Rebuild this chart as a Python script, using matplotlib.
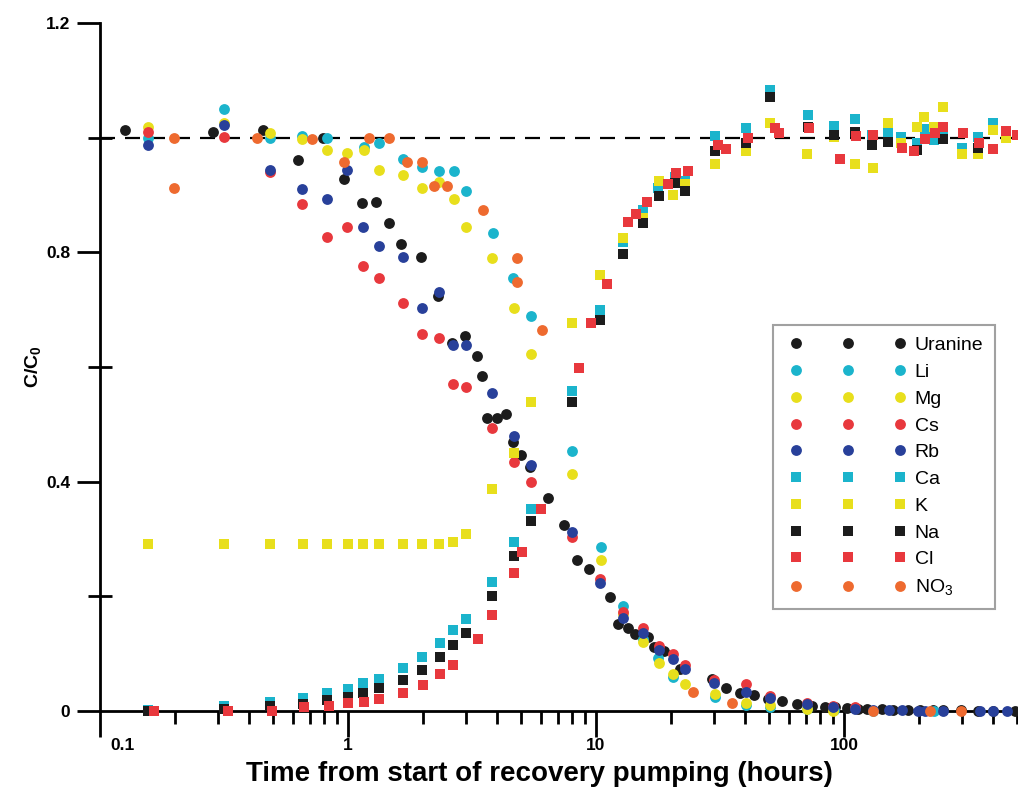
import matplotlib
matplotlib.use("Agg")
import matplotlib.pyplot as plt
import matplotlib.transforms as mtransforms
from matplotlib.ticker import FixedLocator, LogLocator, NullFormatter
from matplotlib.legend_handler import HandlerLine2D

plt.rcParams["font.family"] = ["Liberation Sans", "DejaVu Sans"]
plt.rcParams["mathtext.fontset"] = "custom"
plt.rcParams["mathtext.rm"] = "Liberation Sans"
plt.rcParams["mathtext.bf"] = "Liberation Sans:bold"

# Tracer breakthrough / recovery data (time in hours, C/C0)

uranine_t = [0.126, 0.286, 0.454, 0.629, 0.793, 0.963, 1.14, 1.30, 1.46, 1.64, 1.97, 2.31,
             2.63, 2.96, 3.31, 3.47, 3.63, 3.99, 4.34, 4.63, 4.98, 5.42, 6.4, 7.43, 8.38,
             9.37, 11.4, 12.3, 13.5, 14.4, 16.2, 17.1, 18.8, 21.8, 29.4, 33.4, 38.1, 43.4,
             49.4, 56.2, 64.6, 74.3, 83.8, 92.0, 103, 114, 124, 142, 158, 181, 202, 229,
             251, 296, 347, 399, 489]
uranine_c = [1.013, 1.01, 1.013, 0.961, 1.0, 0.928, 0.886, 0.888, 0.851, 0.815, 0.792, 0.724,
             0.642, 0.654, 0.619, 0.584, 0.511, 0.511, 0.518, 0.469, 0.447, 0.426, 0.372, 0.324, 0.263,
             0.248, 0.199, 0.152, 0.145, 0.134, 0.129, 0.112, 0.105, 0.073, 0.056, 0.040, 0.031, 0.028,
             0.021, 0.017, 0.012, 0.009, 0.007, 0.007, 0.005, 0.004, 0.003, 0.003, 0.002, 0.002, 0.002, 0.001,
             0.001, 0.001, 0.0, 0.0, 0.0]

li_t = [0.156, 0.316, 0.485, 0.653, 0.823, 1.16, 1.33, 1.67, 1.99, 2.33, 2.68, 2.99, 3.84,
        4.63, 5.47, 8.0, 10.5, 12.9, 15.5, 17.8, 20.4, 30.2, 40.3, 50.3, 70.9, 91.2, 131, 231]
li_c = [1.0, 1.05, 1.0, 1.003, 1.0, 0.984, 0.991, 0.963, 0.949, 0.942, 0.942, 0.907, 0.834,
        0.755, 0.689, 0.454, 0.286, 0.183, 0.125, 0.092, 0.059, 0.024, 0.01, 0.007, 0.003, 0.001, 0.0, 0.0]

mg_t = [0.156, 0.316, 0.485, 0.653, 0.823, 0.99, 1.16, 1.33, 1.67, 1.99, 2.33, 2.68, 2.99,
        3.81, 4.67, 5.47, 8.0, 10.5, 12.9, 15.5, 17.9, 20.4, 22.9, 30.2, 40.3, 50.3, 70.9, 90.3]
mg_c = [1.019, 1.026, 1.008, 0.998, 0.979, 0.973, 0.979, 0.944, 0.935, 0.912, 0.923, 0.893, 0.845,
        0.79, 0.703, 0.623, 0.413, 0.263, 0.17, 0.12, 0.084, 0.065, 0.047, 0.03, 0.014, 0.01, 0.003, 0.0]

cs_t = [0.156, 0.316, 0.485, 0.653, 0.823, 0.99, 1.15, 1.33, 1.67, 1.99, 2.33, 2.65, 2.99,
        3.81, 4.67, 5.47, 8.0, 10.4, 12.9, 15.5, 17.9, 20.4, 22.9, 29.9, 40.3, 50.3, 70.9, 90.3, 111]
cs_c = [1.01, 1.001, 0.94, 0.884, 0.827, 0.844, 0.776, 0.755, 0.712, 0.658, 0.65, 0.57, 0.565,
        0.494, 0.434, 0.40, 0.303, 0.23, 0.173, 0.145, 0.113, 0.099, 0.08, 0.054, 0.047, 0.026, 0.014, 0.009, 0.007]

rb_t = [0.156, 0.316, 0.485, 0.653, 0.823, 0.99, 1.15, 1.33, 1.67, 1.99, 2.33, 2.65, 2.99,
        3.81, 4.67, 5.47, 8.0, 10.4, 12.9, 15.5, 17.9, 20.4, 22.9, 29.9, 40.3, 50.3, 70.9, 90.3,
        111, 131, 152, 171, 199, 212, 251, 353, 399, 454]
rb_c = [0.987, 1.022, 0.944, 0.911, 0.893, 0.944, 0.844, 0.811, 0.792, 0.703, 0.731, 0.638, 0.638,
        0.555, 0.48, 0.429, 0.312, 0.223, 0.162, 0.136, 0.106, 0.09, 0.073, 0.049, 0.033, 0.023, 0.012, 0.007,
        0.003, 0.002, 0.002, 0.002, 0.0, 0.0, 0.0, 0.0, 0.0, 0.0]

ca_t = [0.156, 0.316, 0.485, 0.659, 0.823, 1.0, 1.15, 1.33, 1.67, 1.99, 2.35, 2.65, 2.99,
        3.81, 4.67, 5.47, 8.0, 10.4, 12.9, 15.5, 17.8, 20.8, 22.9, 30.2, 40.3, 50.3, 71.6, 91.2,
        111, 130, 150, 170, 197, 212, 231, 251, 299, 347, 399, 450]
ca_c = [0.002, 0.009, 0.016, 0.022, 0.031, 0.038, 0.049, 0.056, 0.075, 0.094, 0.119, 0.141, 0.160,
        0.225, 0.295, 0.352, 0.558, 0.70, 0.818, 0.874, 0.912, 0.931, 0.925, 1.003, 1.017, 1.083, 1.04, 1.02,
        1.033, 1.005, 1.008, 1.001, 0.99, 1.015, 0.996, 1.008, 0.982, 1.001, 1.026, 1.0]

k_t = [0.156, 0.316, 0.485, 0.659, 0.823, 1.0, 1.15, 1.33, 1.67, 1.99, 2.33, 2.65, 2.99,
       3.81, 4.67, 5.47, 8.0, 10.4, 12.9, 15.5, 17.9, 20.4, 22.9, 30.2, 40.3, 50.3, 70.9, 91.2,
       111, 131, 150, 170, 197, 210, 231, 251, 299, 347, 399, 450]
k_c = [0.291, 0.291, 0.291, 0.291, 0.291, 0.291, 0.291, 0.291, 0.291, 0.291, 0.291, 0.295, 0.309,
       0.387, 0.45, 0.539, 0.677, 0.76, 0.825, 0.86, 0.924, 0.90, 0.919, 0.954, 0.977, 1.026, 0.972, 1.001,
       0.954, 0.947, 1.026, 0.991, 1.019, 1.036, 1.019, 1.054, 0.972, 0.972, 1.013, 1.0]

na_t = [0.156, 0.316, 0.485, 0.659, 0.823, 1.0, 1.15, 1.33, 1.67, 1.99, 2.35, 2.65, 2.99,
        3.81, 4.67, 5.47, 8.0, 10.4, 12.9, 15.5, 17.9, 20.8, 22.9, 30.2, 40.3, 50.3, 71.6, 91.2,
        111, 130, 150, 197, 251, 347]
na_c = [0.0, 0.003, 0.008, 0.012, 0.019, 0.025, 0.031, 0.040, 0.054, 0.072, 0.094, 0.115, 0.136,
        0.2, 0.27, 0.331, 0.539, 0.682, 0.797, 0.851, 0.898, 0.921, 0.907, 0.977, 0.991, 1.071, 1.019, 1.005,
        1.01, 0.987, 0.993, 0.979, 0.998, 0.982]

cl_t = [0.165, 0.328, 0.494, 0.665, 0.838, 1.0, 1.16, 1.33, 1.67, 2.01, 2.35, 2.65, 3.34,
        3.81, 4.67, 5.03, 6.0, 8.54, 9.55, 11.1, 13.5, 14.5, 16.1, 19.5, 21.0, 23.5, 31.0, 33.4,
        41.0, 52.7, 54.7, 72.3, 96.4, 112, 131, 171, 192, 212, 233, 251, 302, 350, 399, 450, 499]
cl_c = [0.0, 0.0, 0.0, 0.007, 0.009, 0.014, 0.016, 0.021, 0.031, 0.045, 0.065, 0.08, 0.126,
        0.167, 0.241, 0.277, 0.352, 0.598, 0.677, 0.745, 0.853, 0.867, 0.888, 0.919, 0.938, 0.942, 0.987, 0.98,
        1.0, 1.017, 1.008, 1.017, 0.963, 1.003, 1.005, 0.982, 0.977, 0.998, 1.008, 1.019, 1.008, 0.991, 0.98, 1.012, 1.005]

no3_t = [0.199, 0.199, 0.430, 0.716, 0.963, 1.215, 1.46, 1.73, 1.99, 2.22, 2.51, 3.50, 4.80,
         4.80, 6.05, 24.6, 35.3, 131, 222, 296]
no3_c = [1.0, 0.912, 1.0, 0.998, 0.958, 1.0, 1.0, 0.958, 0.958, 0.916, 0.916, 0.874, 0.79,
         0.748, 0.665, 0.033, 0.014, 0.0, 0.0, 0.0]

series = [
    ("Uranine", uranine_t, uranine_c, "o", "#1c1c1c"),
    ("Li", li_t, li_c, "o", "#1bb4cc"),
    ("Mg", mg_t, mg_c, "o", "#e8df1c"),
    ("Cs", cs_t, cs_c, "o", "#e8383d"),
    ("Rb", rb_t, rb_c, "o", "#28409a"),
    ("Ca", ca_t, ca_c, "s", "#1bb4cc"),
    ("K", k_t, k_c, "s", "#e8df1c"),
    ("Na", na_t, na_c, "s", "#1c1c1c"),
    ("Cl", cl_t, cl_c, "s", "#e8383d"),
    ("NO$_3$", no3_t, no3_c, "o", "#ee6a2f"),
]

fig = plt.figure(figsize=(10.18, 7.99), dpi=100)
ax = fig.add_axes([100 / 1018, 88 / 799, 918 / 1018, 688 / 799])

ax.axhline(1.0, color="black", lw=1.6, dashes=(6.75, 4.5), zorder=1)

for name, t, c, m, col in series:
    ax.plot(t, c, ls="none", marker=m, ms=7.8, color=col, mew=0,
            label=name, clip_on=False, zorder=3)

ax.set_xscale("log")
ax.set_xlim(0.1, 503)
ax.set_ylim(0, 1.2)

# axes styling
for s in ["top", "right"]:
    ax.spines[s].set_visible(False)
for s in ["left", "bottom"]:
    ax.spines[s].set_linewidth(2)

ax.xaxis.set_major_locator(FixedLocator([0.1, 1, 10, 100]))
ax.set_xticklabels(["0.1", "1", "10", "100"])
ax.xaxis.set_minor_locator(LogLocator(base=10, subs=range(2, 10)))
ax.xaxis.set_minor_formatter(NullFormatter())
ax.yaxis.set_major_locator(FixedLocator([0, 0.4, 0.8, 1.2]))
ax.set_yticklabels(["0", "0.4", "0.8", "1.2"])
ax.yaxis.set_minor_locator(FixedLocator([0.2, 0.6, 1.0]))

ax.tick_params(axis="x", which="major", direction="out", length=18.5, width=2,
               pad=1, labelsize=12.5)
ax.tick_params(axis="x", which="minor", direction="out", length=9.5, width=2)
ax.tick_params(axis="y", which="major", direction="out", length=16.5, width=2,
               pad=5, labelsize=12.5)
ax.tick_params(axis="y", which="minor", direction="inout", length=17, width=2)
for lab in ax.get_xticklabels() + ax.get_yticklabels():
    lab.set_fontweight("bold")

# nudge the first x label clear of the y axis
first = ax.get_xticklabels()[0]
first.set_transform(first.get_transform() +
                    mtransforms.ScaledTranslation(0.22, 0, fig.dpi_scale_trans))

ax.set_xlabel("Time from start of recovery pumping (hours)", fontsize=20,
              fontweight="bold")
ax.xaxis.set_label_coords(0.479, -0.072)
ax.set_ylabel(r"$\mathbf{C/C_0}$", fontsize=14, labelpad=2)

leg = ax.legend(loc="upper left", bbox_to_anchor=(773 / 1018, 1 - 325 / 799),
                bbox_transform=fig.transFigure, borderaxespad=0, numpoints=3,
                fontsize=14, frameon=True, fancybox=False, borderpad=0.6,
                handlelength=6.5, handletextpad=0.19, labelspacing=0.47,
                handler_map={plt.Line2D: HandlerLine2D(marker_pad=0.59)})
leg.get_frame().set_edgecolor("#8a8a8a")
leg.get_frame().set_linewidth(1.5)

fig.savefig("out.png", dpi=100)
